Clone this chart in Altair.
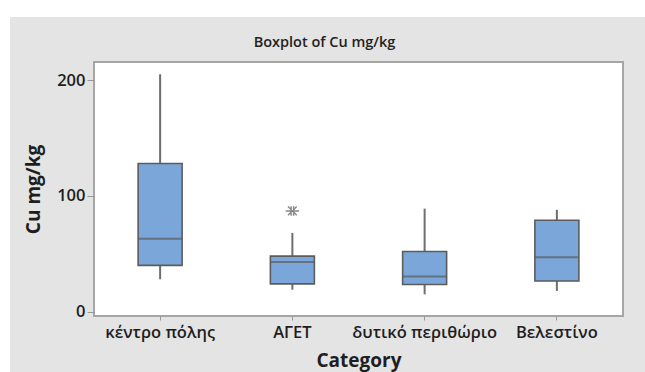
import altair as alt
import pandas as pd

# Summary statistics of Cu (mg/kg) per sampling area
categories = ["κέντρο πόλης", "ΑΓΕΤ", "δυτικό περιθώριο", "Βελεστίνο"]
whisker_low = [28, 19, 15, 18]
q1 = [40, 24, 23.5, 26.5]
median = [63, 43, 30.5, 47]
q3 = [128, 48, 52, 79]
whisker_high = [205, 68, 89, 88]

outlier_category = ["ΑΓΕΤ"]
outlier_value = [87]

y_ticks = [0, 100, 200]

stats = pd.DataFrame({
    "Category": categories,
    "low": whisker_low,
    "q1": q1,
    "median": median,
    "q3": q3,
    "high": whisker_high,
})
outliers = pd.DataFrame({"Category": outlier_category, "value": outlier_value})

FONT = "Open Sans"
W, H = 529, 254
PAD_L, PAD_T = 94, 62
BG = "#E4E4E4"
BOX_W = 44

x_enc = alt.X(
    "Category:N",
    sort=categories,
    scale=alt.Scale(paddingInner=0, paddingOuter=0),
    axis=alt.Axis(
        title="Category", labelAngle=0, tickSize=4, tickColor="#999999",
        labelPadding=4, domain=False, titlePadding=11,
    ),
)
y_scale = alt.Scale(domain=[-3.7, 215.6], nice=False, zero=False)
y_axis = alt.Axis(
    title="Cu mg/kg", values=y_ticks, tickSize=7, tickColor="#999999",
    labelPadding=2, domain=False, grid=False, titlePadding=13,
)

base = alt.Chart(stats)

whiskers = base.mark_rule(color="#6E6E6E", strokeWidth=2).encode(
    x=x_enc,
    y=alt.Y("low:Q", scale=y_scale, axis=y_axis),
    y2="high:Q",
)
boxes = base.mark_bar(
    size=BOX_W, fill="#7BA6D9", stroke="#5C5C5C", strokeWidth=1.6
).encode(x=x_enc, y="q1:Q", y2="q3:Q")
medians = base.mark_tick(
    size=BOX_W, thickness=2, color="#5C5C5C", orient="horizontal"
).encode(x=x_enc, y="median:Q")

asterisk = (
    "M-1,0L1,0M-0.65,-0.65L0.65,0.65M-0.65,0.65L0.65,-0.65"
    "M-0.18,-0.7L-0.18,0.7M0.18,-0.7L0.18,0.7"
)
outlier_marks = alt.Chart(outliers).mark_point(
    shape=asterisk, size=180, filled=False, color="#555555", strokeWidth=1.4
).encode(x=alt.X("Category:N", sort=categories), y="value:Q")

# white margin strips outside the grey figure panel
strip_top = alt.Chart(stats).mark_rect(color="white", clip=False).encode(
    x=alt.value(-PAD_L), x2=alt.value(W + 30),
    y=alt.value(-PAD_T), y2=alt.value(-45),
)
strip_left = alt.Chart(stats).mark_rect(color="white", clip=False).encode(
    x=alt.value(-PAD_L), x2=alt.value(-84),
    y=alt.value(-PAD_T), y2=alt.value(H + 60),
)

chart = (
    alt.layer(strip_top, strip_left, whiskers, boxes, medians, outlier_marks)
    .properties(
        width=W,
        height=H,
        autosize=alt.AutoSizeParams(type="none"),
        padding={"left": PAD_L, "top": PAD_T, "right": 645 - PAD_L - W, "bottom": 372 - PAD_T - H},
        background=BG,
        title=alt.TitleParams(
            "Boxplot of Cu mg/kg", fontSize=14.5, fontWeight=600, font=FONT,
            color="#222222", anchor="middle", dx=-34, dy=62, offset=12,
        ),
    )
    .configure_view(fill="white", stroke="#A6A6A6", strokeWidth=2)
    .configure_axis(
        labelFont=FONT, titleFont=FONT, labelFontSize=16.5, titleFontSize=19,
        labelFontWeight=600, titleFontWeight="bold",
        labelColor="#1E1E1E", titleColor="#1E1E1E",
    )
)

chart.save("out.html", embed_options={"renderer": "svg", "actions": False})
